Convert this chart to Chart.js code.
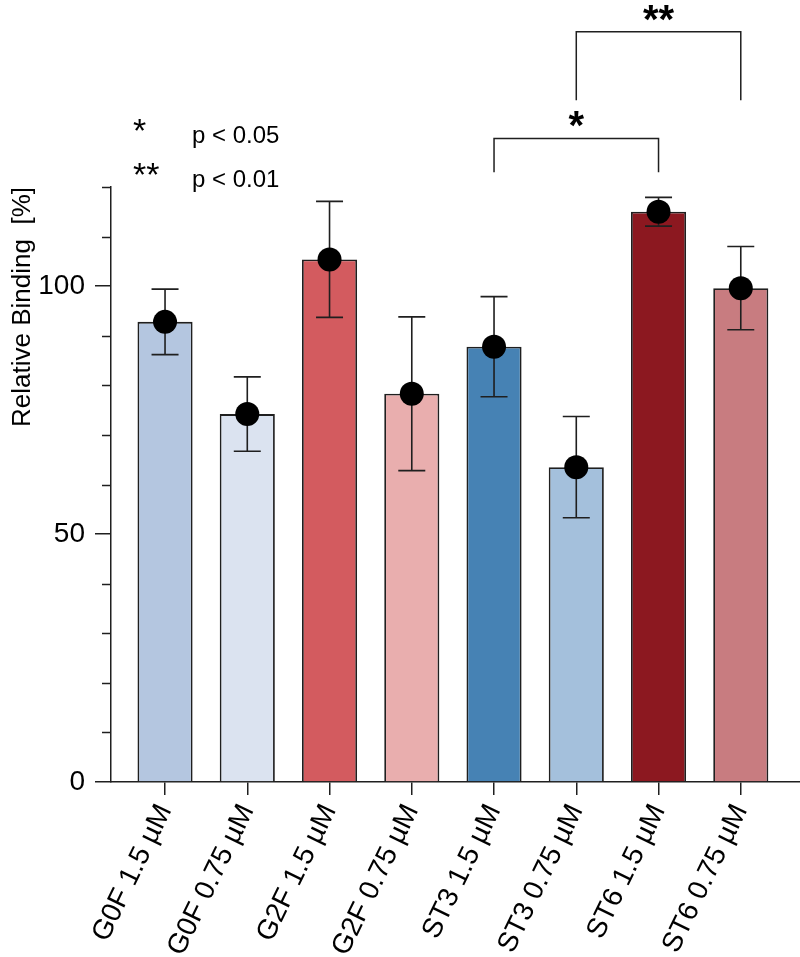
<!DOCTYPE html>
<html>
<head>
<meta charset="utf-8">
<script src="https://cdn.jsdelivr.net/npm/chart.js@4"></script>
<style>
  html, body { margin: 0; padding: 0; background: #fff; }
  #wrap { width: 800px; height: 957px; }
</style>
</head>
<body>
<div id="wrap"><canvas id="bindingChart" width="800" height="957"></canvas></div>
<script>
// data
const categories = ["G0F 1.5 µM", "G0F 0.75 µM", "G2F 1.5 µM", "G2F 0.75 µM",
  "ST3 1.5 µM", "ST3 0.75 µM", "ST6 1.5 µM", "ST6 0.75 µM"];
const means = [92.8, 74.2, 105.4, 78.3, 87.8, 63.5, 115.0, 99.6];
const errors = [6.6, 7.5, 11.7, 15.5, 10.1, 10.2, 2.9, 8.4];
const barColors = ["#b4c6e0", "#dbe3f0", "#d35b5f", "#e9aeae",
  "#4682b4", "#a4c0dc", "#8c1820", "#c87c80"];
const yLabelTicks = [0, 50, 100];
// significance brackets: category index (1-based), bracket height, leg end
const brackets = [
  { from: 5, to: 7, top: 129.8, leg: 123.0, mark: "*" },
  { from: 6, to: 8, top: 151.3, leg: 137.5, mark: "**" },
];
const sigLegend = [["*", "p < 0.05"], ["**", "p < 0.01"]];

const SANS = "'Liberation Sans', Arial, sans-serif";
const INK = "#1f1f1f";

// error bars, minor ticks, brackets and the p-value key
const extras = {
  id: "extras",
  afterDatasetDraw(chart, args) {
    if (args.meta.type !== "bar") return;
    const { ctx, scales: { x, y } } = chart;
    ctx.save();
    ctx.strokeStyle = INK;
    ctx.lineWidth = 1.6;
    means.forEach((m, i) => {
      const px = x.getPixelForValue(i + 1);
      const hi = y.getPixelForValue(m + errors[i]);
      const lo = y.getPixelForValue(m - errors[i]);
      ctx.beginPath();
      ctx.moveTo(px, hi); ctx.lineTo(px, lo);
      ctx.moveTo(px - 13.5, hi); ctx.lineTo(px + 13.5, hi);
      ctx.moveTo(px - 13.5, lo); ctx.lineTo(px + 13.5, lo);
      ctx.stroke();
    });
    ctx.restore();
  },
  afterDraw(chart) {
    const { ctx, chartArea, scales: { x, y } } = chart;
    ctx.save();
    ctx.strokeStyle = INK;
    ctx.lineWidth = 1.5;

    // minor ticks (shorter than the labelled ones)
    y.ticks.forEach((t) => {
      if (yLabelTicks.includes(t.value)) return;
      const py = Math.round(y.getPixelForValue(t.value)) + 0.5;
      ctx.beginPath();
      ctx.moveTo(chartArea.left - 9, py);
      ctx.lineTo(chartArea.left, py);
      ctx.stroke();
    });

    // brackets
    brackets.forEach((b) => {
      const x1 = x.getPixelForValue(b.from);
      const x2 = x.getPixelForValue(b.to);
      const yt = y.getPixelForValue(b.top);
      const yl = y.getPixelForValue(b.leg);
      ctx.beginPath();
      ctx.moveTo(x1, yl); ctx.lineTo(x1, yt); ctx.lineTo(x2, yt); ctx.lineTo(x2, yl);
      ctx.stroke();
      ctx.fillStyle = "#000";
      ctx.font = "bold 40px " + SANS;
      ctx.textAlign = "center";
      ctx.textBaseline = "alphabetic";
      ctx.fillText(b.mark, (x1 + x2) / 2, yt + 1);
    });

    // p-value key
    ctx.fillStyle = "#000";
    ctx.textAlign = "left";
    ctx.textBaseline = "alphabetic";
    sigLegend.forEach(([mark, text], i) => {
      const base = 143 + i * 44;
      ctx.font = "34px " + SANS;
      ctx.fillText(mark, chartArea.left + 22, base - 1);
      ctx.font = "24px " + SANS;
      ctx.fillText(text, chartArea.left + 81, base);
    });
    ctx.restore();
  },
};

const ctx = document.getElementById("bindingChart").getContext("2d");
new Chart(ctx, {
  type: "bar",
  data: {
    datasets: [
      {
        type: "line",
        data: means.map((m, i) => ({ x: i + 1, y: m })),
        showLine: false,
        pointRadius: 12,
        pointBackgroundColor: "#000",
        pointBorderWidth: 0,
        order: 0,
      },
      {
        type: "bar",
        data: means.map((m, i) => ({ x: i + 1, y: m })),
        backgroundColor: barColors,
        borderColor: INK,
        borderWidth: 1.8,
        barPercentage: 0.67,
        categoryPercentage: 1,
        order: 1,
      },
    ],
  },
  options: {
    responsive: false,
    animation: false,
    layout: { autoPadding: false, padding: { top: 187, right: 0, left: 0, bottom: 0 } },
    plugins: { legend: { display: false }, tooltip: { enabled: false } },
    scales: {
      x: {
        type: "linear",
        min: 0.343,
        max: 8.72,
        offset: false,
        grid: { offset: false, drawOnChartArea: false, tickLength: 13, color: INK, lineWidth: 1.5 },
        border: { color: INK, width: 1.5 },
        ticks: {
          stepSize: 1,
          includeBounds: false,
          autoSkip: false,
          maxRotation: 64,
          minRotation: 64,
          padding: 4,
          color: "#000",
          font: { family: SANS, size: 28 },
          callback: (v) => categories[v - 1] ?? "",
        },
        afterFit: (s) => {
          s.height = 175;
          s.paddingLeft = 0;
          s.paddingRight = 0;
        },
      },
      y: {
        min: 0,
        max: 120,
        grid: {
          drawOnChartArea: false,
          tickLength: 16,
          lineWidth: 1.5,
          color: (c) => (c.tick && yLabelTicks.includes(c.tick.value) ? INK : "rgba(0,0,0,0)"),
        },
        border: { color: INK, width: 1.5 },
        ticks: {
          stepSize: 5,
          padding: 10,
          color: "#000",
          font: { family: SANS, size: 28 },
          callback: (v) => (yLabelTicks.includes(v) ? String(v) : ""),
        },
        title: {
          display: true,
          text: "Relative Binding  [%]",
          align: "end",
          color: "#000",
          font: { family: SANS, size: 26 },
          padding: { top: 7, bottom: 4 },
        },
        afterFit: (s) => { s.width = 111; },
      },
    },
  },
  plugins: [extras],
});
</script>
</body>
</html>
